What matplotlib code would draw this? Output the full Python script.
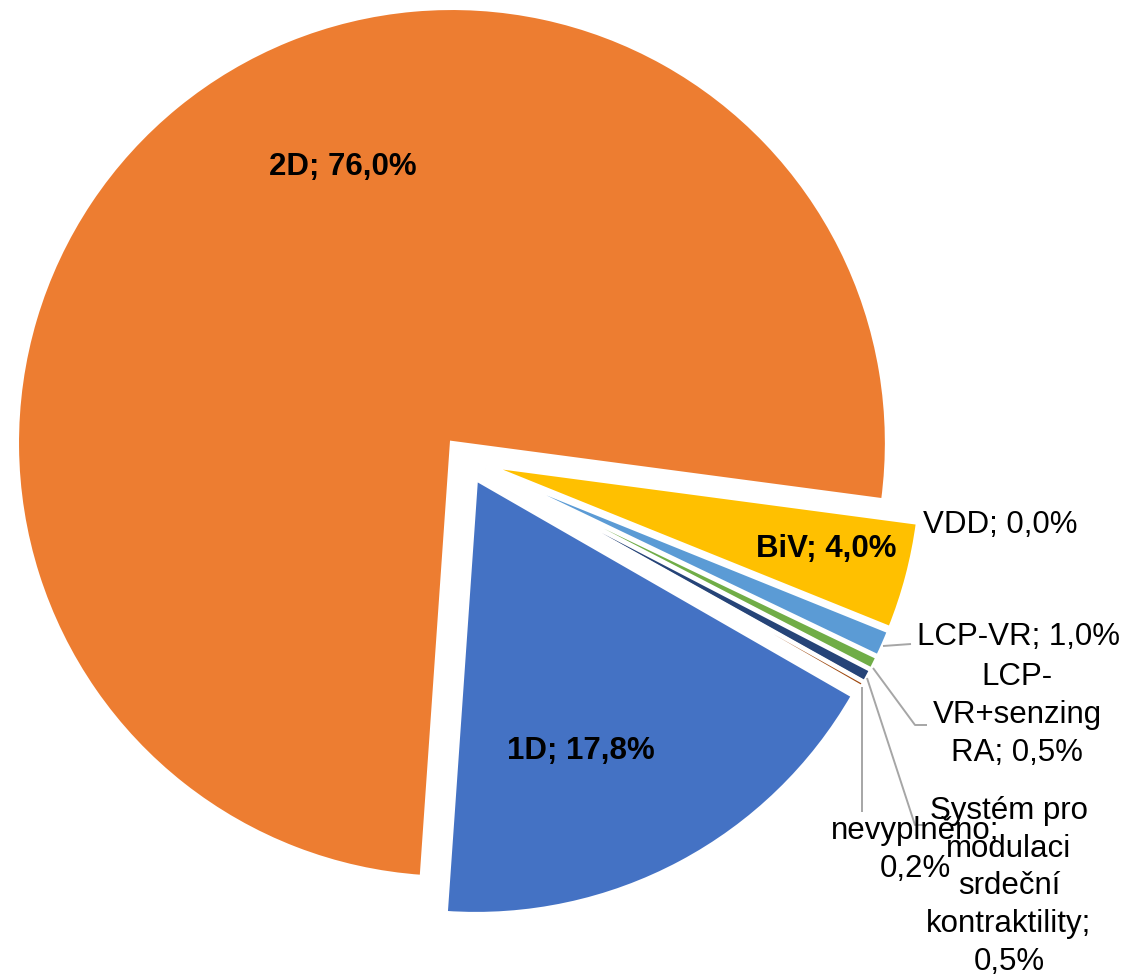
import matplotlib
matplotlib.use('Agg')
import matplotlib.pyplot as plt

# ---- data ----
categories = ['1D', '2D', 'BiV', 'VDD', 'LCP-VR', 'LCP-VR+senzing RA',
              'Systém pro modulaci srdeční kontraktility', 'nevyplněno']
values = [17.8, 76.0, 4.0, 0.0, 1.0, 0.5, 0.5, 0.2]
wrapped_names = ['1D', '2D', 'BiV', 'VDD', 'LCP-VR', 'LCP-\nVR+senzing\nRA',
                 'Systém pro\nmodulaci\nsrdeční\nkontraktility', 'nevyplněno']
colors = ['#4472C4', '#ED7D31', '#FFC000', '#A5A5A5', '#5B9BD5', '#70AD47',
          '#264478', '#9E480E']

# ---- layout (pixel positions of the reference) ----
W, H = 1130, 976
CX, CY, R = 465.7, 459.8, 435.0
separators = ['; ', '; ', '; ', '; ', '; ', '; ', ';\n', ';\n']
bold = [True, True, True, False, False, False, False, False]
# (center x, baseline y of the LAST line)
label_px = [(581, 759), (343, 175), (826, 557), (1000, 533), (1018, 645),
            (1017, 761), (1009, 970), (915, 877)]
leaders_px = [
    None, None, None, None,
    [(883, 646), (911, 644)],
    [(873, 668), (915, 725), (927, 725)],
    [(867, 678), (915, 825), (927, 825)],
    [(862, 687), (862, 812)],
]


def P(x, y):
    return ((x - CX) / R, (CY - y) / R)


fig = plt.figure(figsize=(W / 100, H / 100), dpi=100)
ax = fig.add_axes([0, 0, 1, 1])
ax.pie(values, colors=colors, explode=[0.05] * len(values), startangle=-29.9,
       counterclock=False, radius=1, center=(0, 0),
       wedgeprops=dict(edgecolor='white', linewidth=3, joinstyle='miter'))
ax.set_aspect('auto')
ax.set_xlim(P(0, 0)[0], P(W, 0)[0])
ax.set_ylim(P(0, H)[1], P(0, 0)[1])
ax.axis('off')

for name, v, sep, b, (x, y), lead in zip(wrapped_names, values, separators,
                                         bold, label_px, leaders_px):
    if lead is not None:
        pts = [P(px, py) for px, py in lead]
        ax.plot([p[0] for p in pts], [p[1] for p in pts], color='#A6A6A6',
                lw=1.4, solid_capstyle='butt', zorder=3)
    txt = f"{name}{sep}{v:.1f}%".replace('.', ',')
    ax.text(*P(x, y), txt, ha='center', va='baseline', multialignment='center',
            fontsize=22.5, fontweight='bold' if b else 'normal',
            family='Liberation Sans', linespacing=1.34, color='black', zorder=4)

fig.savefig('out.png', dpi=100)
